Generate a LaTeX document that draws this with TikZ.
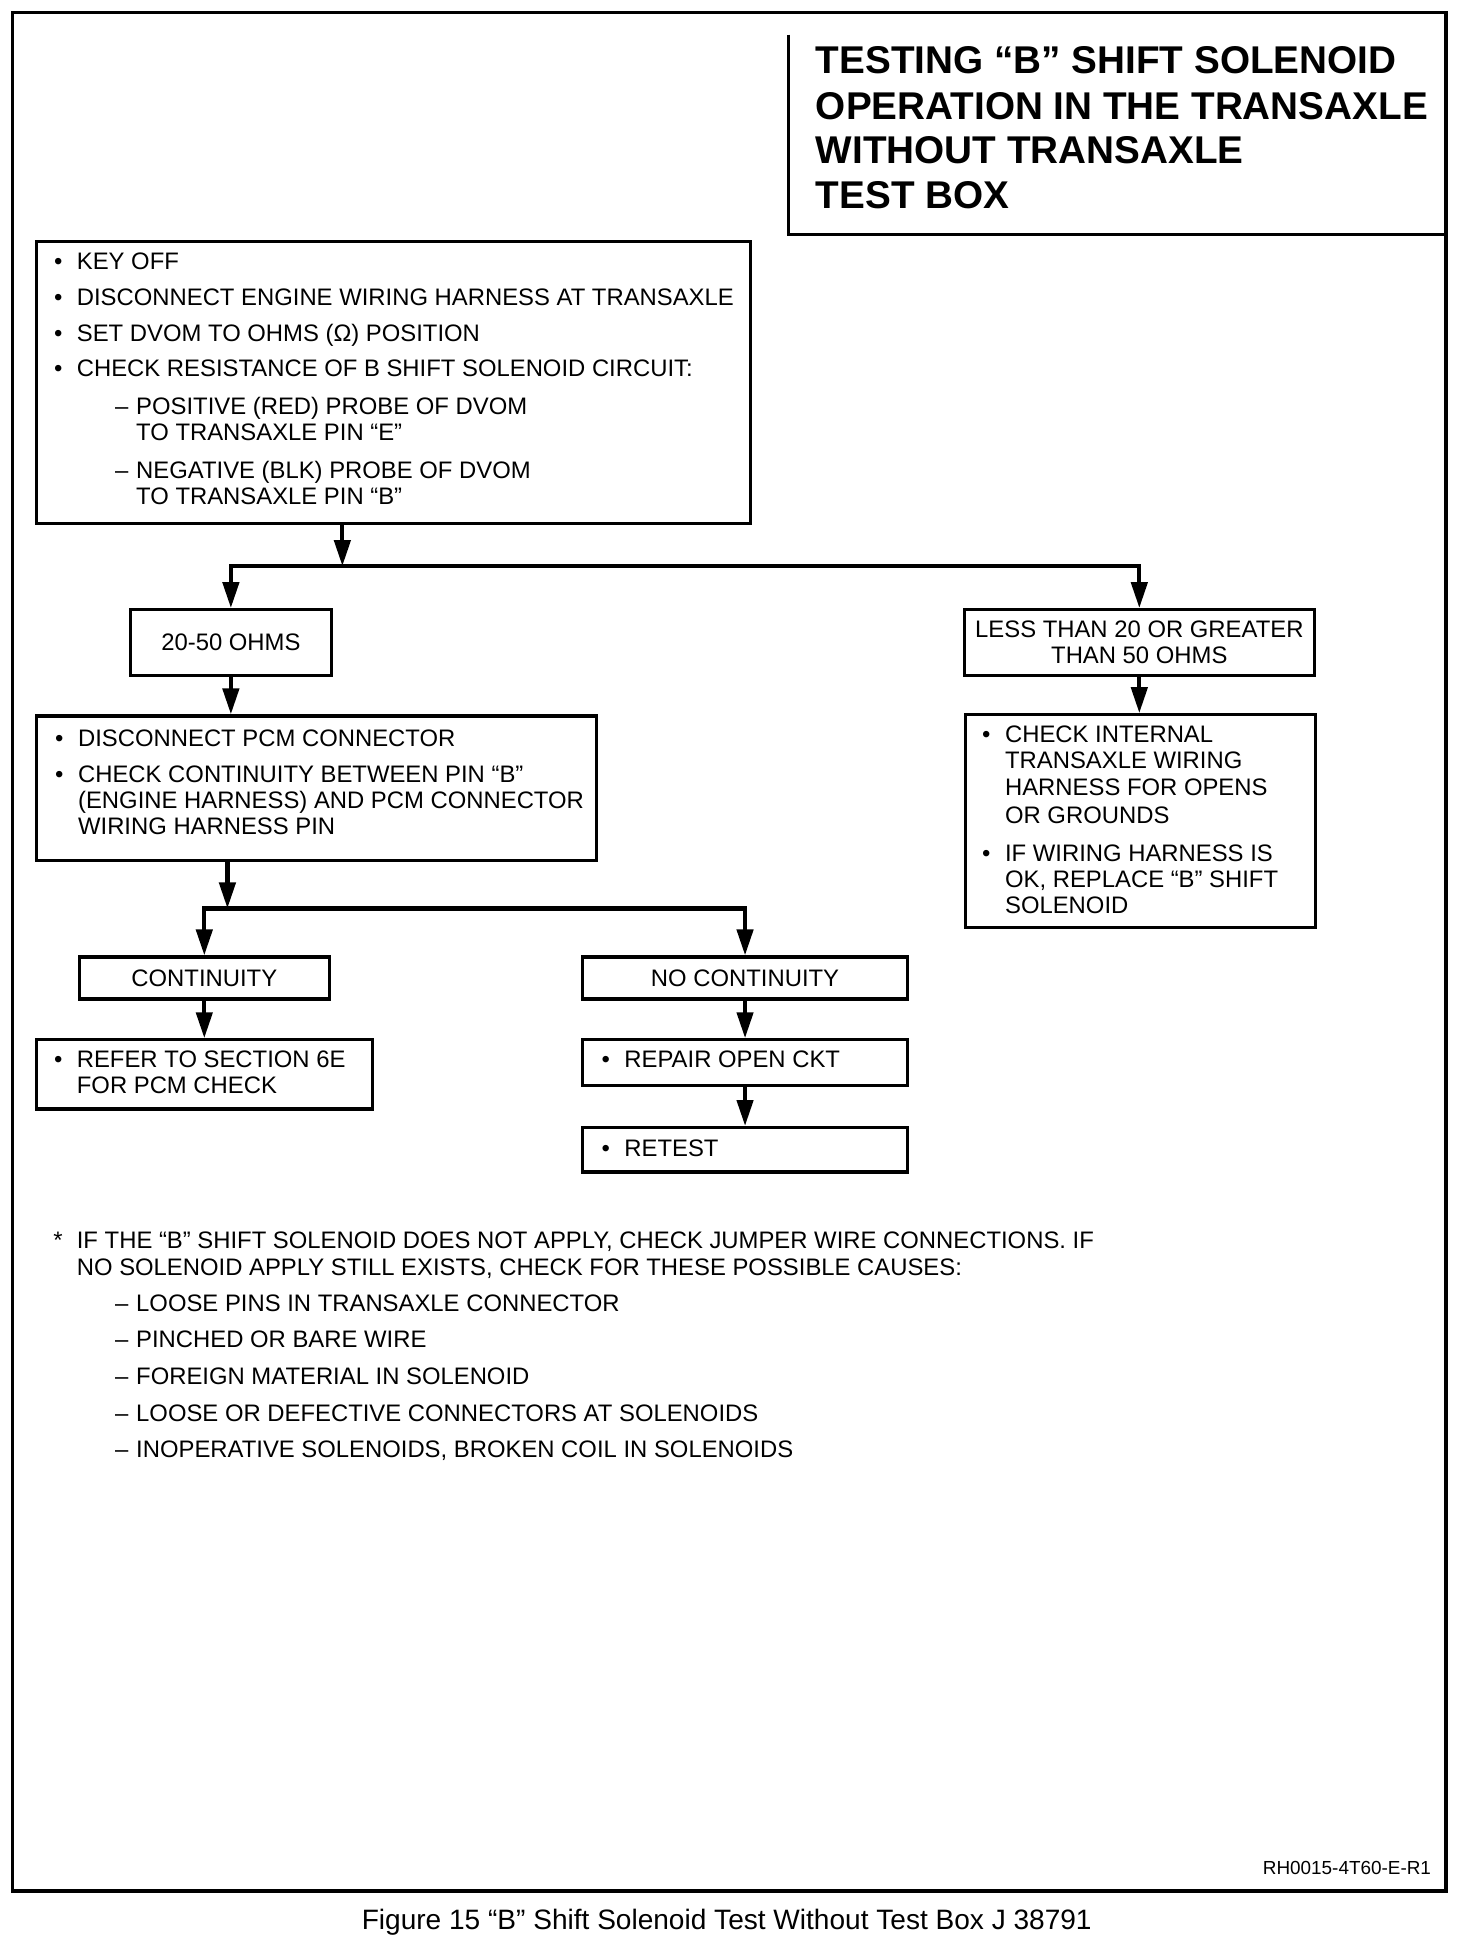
\documentclass[tikz,border=0pt]{standalone}
\usepackage{fontspec}
\setmainfont{Liberation Sans}
\usetikzlibrary{arrows.meta}
\newcommand\bodyfont{\fontsize{19.3}{21}\selectfont}
\newcommand\ttlfont{\fontsize{31.3}{36}\selectfont\bfseries}
\newcommand\txtline[4]{\node[txt] (#1) at (#2,#3) {#4};}
\newcommand\bul{\makebox[18.5pt][l]{\textbullet}}
\newcommand\dsh{\makebox[17pt][l]{–}}
\tikzset{
  frame/.style={line width=2.6pt},
  box/.style={draw, line width=2.6pt, anchor=north west, inner sep=0pt, font=\bodyfont},
  conn/.style={line width=3.4pt, -{Triangle[length=21pt,width=13pt]}},
  txt/.style={anchor=base west, inner sep=0pt, font=\bodyfont},
  ttl/.style={anchor=base west, inner sep=0pt, font=\ttlfont},
}
\begin{document}
\begin{tikzpicture}[x=1pt,y=-1pt]
\useasboundingbox (0,0) rectangle (1191,1568);
% outer frame and title box
\draw[frame] (10,10) rectangle (1170,1530);
\draw[frame] (638,28) -- (638,190) -- (1170,190);
\node[ttl] (t1) at (660,59.5) {TESTING “B” SHIFT SOLENOID};
\node[ttl] (t2) at (660,96.5) {OPERATION IN THE TRANSAXLE};
\node[ttl] (t3) at (660,132.5) {WITHOUT TRANSAXLE};
\node[ttl] (t4) at (660,168.5) {TEST BOX};

% boxes
\node[box, minimum width=578pt, minimum height=228pt] (b1) at (28,194) {};
\node[box, minimum width=163pt, minimum height=53pt] (ohm) at (104,492) {20-50 OHMS};
\node[box, minimum width=283pt, minimum height=53pt, align=center] (less) at (779,492) {LESS THAN 20 OR GREATER\\THAN 50 OHMS};
\node[box, minimum width=453pt, minimum height=117pt] (pcm) at (28,578) {};
\node[box, minimum width=283pt, minimum height=172pt] (rbox) at (780,577) {};
\node[box, minimum width=202pt, minimum height=34pt] (cont) at (63,773) {CONTINUITY};
\node[box, minimum width=263pt, minimum height=34pt] (nocont) at (470,773) {NO CONTINUITY};
\node[box, minimum width=272pt, minimum height=56pt] (refer) at (28,840) {};
\node[box, minimum width=263pt, minimum height=37pt] (repair) at (470,840) {};
\node[box, minimum width=263pt, minimum height=36pt] (retest) at (470,911) {};

% box 1 text
\txtline{a1}{43.5}{218}{\bul KEY OFF}
\txtline{a2}{43.5}{247}{\bul DISCONNECT ENGINE WIRING HARNESS AT TRANSAXLE}
\txtline{a3}{43.5}{276}{\bul SET DVOM TO OHMS (Ω) POSITION}
\txtline{a4}{43.5}{305}{\bul CHECK RESISTANCE OF B SHIFT SOLENOID CIRCUIT:}
\txtline{a5}{93}{335}{\dsh POSITIVE (RED) PROBE OF DVOM}
\txtline{a6}{110}{356}{TO TRANSAXLE PIN “E”}
\txtline{a7}{93}{387}{\dsh NEGATIVE (BLK) PROBE OF DVOM}
\txtline{a8}{110}{408}{TO TRANSAXLE PIN “B”}

% pcm text
\txtline{p1}{44.5}{604}{\bul DISCONNECT PCM CONNECTOR}
\txtline{p2}{44.5}{633}{\bul CHECK CONTINUITY BETWEEN PIN “B”}
\txtline{p3}{63}{654}{(ENGINE HARNESS) AND PCM CONNECTOR}
\txtline{p4}{63}{675}{WIRING HARNESS PIN}

% right box text
\txtline{r1}{794.5}{601}{\bul CHECK INTERNAL}
\txtline{r2}{813}{622}{TRANSAXLE WIRING}
\txtline{r3}{813}{644}{HARNESS FOR OPENS}
\txtline{r4}{813}{666}{OR GROUNDS}
\txtline{r5}{794.5}{697}{\bul IF WIRING HARNESS IS}
\txtline{r6}{813}{718}{OK, REPLACE “B” SHIFT}
\txtline{r7}{813}{739}{SOLENOID}

% lower boxes text
\txtline{f1}{43.5}{864}{\bul REFER TO SECTION 6E}
\txtline{f2}{62}{885}{FOR PCM CHECK}
\txtline{q1}{486.5}{864}{\bul REPAIR OPEN CKT}
\txtline{q2}{486.5}{936}{\bul RETEST}

% connectors
\coordinate (jc) at (277,458);
\draw[conn] (b1.south -| jc) -- (jc);
\draw[conn] (jc) -| (ohm.north);
\draw[conn] (jc) -| (less.north);
\draw[conn] (ohm.south) -- (ohm.south |- pcm.north);
\draw[conn] (less.south) -- (less.south |- rbox.north);
\coordinate (jd) at (184,735);
\draw[conn] (pcm.south -| jd) -- (jd);
\draw[conn] (jd) -| (cont.north);
\draw[conn] (jd) -| (nocont.north);
\draw[conn] (cont.south) -- (cont.south |- refer.north);
\draw[conn] (nocont.south) -- (repair.north);
\draw[conn] (repair.south) -- (retest.north);

% note
\txtline{n1}{43}{1010}{\makebox[19pt][l]{*}IF THE “B” SHIFT SOLENOID DOES NOT APPLY, CHECK JUMPER WIRE CONNECTIONS. IF}
\txtline{n2}{62}{1032}{NO SOLENOID APPLY STILL EXISTS, CHECK FOR THESE POSSIBLE CAUSES:}
\txtline{n3}{93}{1061}{\dsh LOOSE PINS IN TRANSAXLE CONNECTOR}
\txtline{n4}{93}{1090}{\dsh PINCHED OR BARE WIRE}
\txtline{n5}{93}{1120}{\dsh FOREIGN MATERIAL IN SOLENOID}
\txtline{n6}{93}{1150}{\dsh LOOSE OR DEFECTIVE CONNECTORS AT SOLENOIDS}
\txtline{n7}{93}{1179}{\dsh INOPERATIVE SOLENOIDS, BROKEN COIL IN SOLENOIDS}

% code and caption
\node[anchor=base east, inner sep=0pt, font=\fontsize{15.3}{17}\selectfont] (code) at (1158,1517) {RH0015-4T60-E-R1};
\node[anchor=base, inner sep=0pt, font=\fontsize{22.7}{26}\selectfont] (cap) at (588,1561) {Figure 15 “B” Shift Solenoid Test Without Test Box J 38791};
\end{tikzpicture}
\end{document}
